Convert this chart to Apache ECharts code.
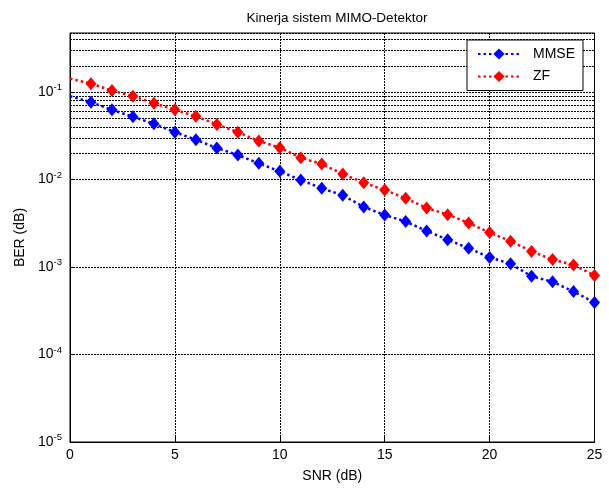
<!DOCTYPE html>
<html>
<head>
<meta charset="utf-8">
<script src="https://cdn.jsdelivr.net/npm/echarts@6/dist/echarts.min.js"></script>
<style>html,body{margin:0;padding:0;background:#fff}#c{width:609px;height:488px}</style>
</head>
<body>
<div id="c"></div>
<script>
const snr = [0,1,2,3,4,5,6,7,8,9,10,11,12,13,14,15,16,17,18,19,20,21,22,23,24,25];
const berMMSE = [0.090,0.0769,0.0629,0.0524,0.0435,0.0349,0.0286,0.0230,0.0191,0.01535,0.01244,0.00989,0.00796,0.00662,0.00487,0.00394,0.00332,0.00259,0.00206,0.00164,0.00129,0.00109,0.000787,0.000678,0.000526,0.000394];
const berZF = [0.143,0.125,0.1045,0.090,0.0749,0.0629,0.053,0.0428,0.0349,0.0276,0.0232,0.0178,0.01507,0.01159,0.00924,0.0076,0.00612,0.00474,0.00398,0.0032,0.00248,0.00198,0.00151,0.00122,0.00106,0.0008];
const xTicks = [0,5,10,15,20,25];
const yMin = 1e-5, yMax = 0.475;
const minorGrid = [];
for (let e = -5; e <= -1; e++) for (let m = 2; m <= 9; m++) { const v = m*Math.pow(10,e); if (v < yMax) minorGrid.push(v); }

function mk(vals){
  return vals.map((v,i)=> i===0 ? {value:[snr[i],v], symbol:'none'} : {value:[snr[i],v]});
}
const gridLine = {color:'#000', type:[2,1], width:1};
const FF = 'Liberation Sans, Arial';
const chart = echarts.init(document.getElementById('c'), null, {renderer:'canvas'});
chart.setOption({
  animation:false,
  backgroundColor:'#fff',
  title:{text:'Kinerja sistem MIMO-Detektor', left:332, top:6, textAlign:'center',
    textStyle:{fontFamily:FF, fontSize:13.5, fontWeight:'normal', color:'#000'}},
  grid:{left:70, right:14.5, top:33, bottom:45, show:true, borderColor:'#000', borderWidth:1, backgroundColor:'#fff'},
  legend:{orient:'vertical', left:467, top:40, padding:[7,8,7,10], itemGap:8.5, itemWidth:42, itemHeight:14,
    backgroundColor:'#fff', borderColor:'#000', borderWidth:1,
    textStyle:{fontFamily:FF, fontSize:14, color:'#000', padding:[0,0,0,8]},
    data:['MMSE','ZF']},
  xAxis:{type:'value', min:0, max:25, interval:5,
    axisLine:{lineStyle:{color:'#000'}}, axisTick:{inside:true, length:5, lineStyle:{color:'#000'}},
    axisLabel:{color:'#000', fontFamily:FF, fontSize:14, margin:6,
      formatter:v=> xTicks.includes(v) ? String(v) : ''},
    splitLine:{show:true, lineStyle:gridLine},
    name:'SNR (dB)', nameLocation:'middle', nameGap:27,
    nameTextStyle:{color:'#000', fontFamily:FF, fontSize:14}},
  yAxis:{type:'log', logBase:10, min:yMin, max:yMax,
    axisLine:{show:true, lineStyle:{color:'#000'}}, axisTick:{inside:true, length:5, lineStyle:{color:'#000'}},
    axisLabel:{color:'#000', margin:8, showMaxLabel:false,
      formatter:function(v){ const l=Math.log10(v), e=Math.round(l); if (Math.abs(l-e)>0.01) return ''; return '{b|10}{s|'+e+'}'; },
      rich:{b:{fontFamily:FF, fontSize:14, color:'#000'},
            s:{fontFamily:FF, fontSize:9.5, color:'#000', verticalAlign:'bottom', padding:[0,0,9,0]}}},
    splitLine:{show:true, lineStyle:gridLine},
    name:'BER (dB)', nameLocation:'middle', nameGap:37, nameRotate:90,
    nameTextStyle:{color:'#000', fontFamily:FF, fontSize:14}},
  series:[
    {type:'line', name:'grid', data:[], z:1, silent:true,
      markLine:{silent:true, z:1, symbol:['none','none'], label:{show:false}, lineStyle:gridLine, emphasis:{disabled:true},
        data:minorGrid.map(v=>({yAxis:v}))}},
    {type:'line', name:'MMSE', z:3, data:mk(berMMSE), symbol:'diamond', symbolSize:[11,13],
      lineStyle:{color:'#0000ff', width:2.5, type:[2.5,3]}, itemStyle:{color:'#0000ff'}},
    {type:'line', name:'ZF', z:3, data:mk(berZF), symbol:'diamond', symbolSize:[11,13],
      lineStyle:{color:'#ff0000', width:2.5, type:[2.5,3]}, itemStyle:{color:'#ff0000'}}
  ]
});
</script>
</body>
</html>
